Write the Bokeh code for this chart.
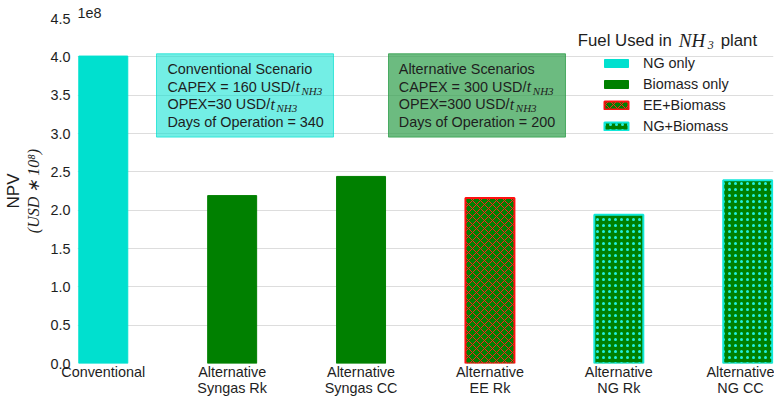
from bokeh.plotting import figure
from bokeh.models import (Range1d, FixedTicker, LinearAxis, CustomJSTickFormatter,
                          ColumnDataSource, Legend, LegendItem, BoxAnnotation, Label)
from bokeh.embed import file_html
from bokeh.resources import INLINE

# ---------------- data ----------------
scenarios = ["Conventional", "Alternative\nSyngas Rk", "Alternative\nSyngas CC",
             "Alternative\nEE Rk", "Alternative\nNG Rk", "Alternative\nNG CC"]
npv = [4.01e8, 2.19e8, 2.44e8, 2.16e8, 1.94e8, 2.39e8]
fuel = ["NG only", "Biomass only", "Biomass only", "EE+Biomass", "NG+Biomass", "NG+Biomass"]
fuel_types = ["NG only", "Biomass only", "EE+Biomass", "NG+Biomass"]
yticks = [0.0, 0.5e8, 1.0e8, 1.5e8, 2.0e8, 2.5e8, 3.0e8, 3.5e8, 4.0e8, 4.5e8]

conv_lines = ["Conventional Scenario", "CAPEX = 160 USD/", "OPEX=30 USD/", "Days of Operation = 340"]
alt_lines = ["Alternative Scenarios", "CAPEX = 300 USD/", "OPEX=300 USD/", "Days of Operation = 200"]

# ---------------- styles ----------------
CYAN = "#00E0CF"
GREEN = "#008000"
styles = {
    "NG only": dict(fill_color=CYAN, line_color=CYAN, line_width=1, hatch_pattern=None),
    "Biomass only": dict(fill_color=GREEN, line_color=GREEN, line_width=1, hatch_pattern=None),
    "EE+Biomass": dict(fill_color=GREEN, line_color="#FF1010", line_width=2,
                       hatch_pattern="diagonal_cross", hatch_color="#FF2020",
                       hatch_scale=8, hatch_weight=1.0),
    "NG+Biomass": dict(fill_color=GREEN, line_color="#10E8DA", line_width=2,
                       hatch_pattern="dot", hatch_color="#20F0E0",
                       hatch_scale=6, hatch_weight=1.5),
}

FONT = "Liberation Sans"
SERIF = "Liberation Serif"
TXT = "#1e1e1e"

p = figure(width=774, height=399, output_backend="svg", toolbar_location=None,
           x_range=Range1d(-0.2, 5.2), y_range=Range1d(0, 4.5e8),
           min_border_left=77, min_border_right=1, min_border_top=18, min_border_bottom=30,
           title="1e8")
p.title.align = "left"
p.title.text_font = FONT
p.title.text_font_style = "normal"
p.title.text_font_size = "14.4px"
p.title.text_color = TXT
p.title.standoff = 1
p.title.offset = 0
p.outline_line_color = None
p.background_fill_color = "white"
p.xgrid.visible = False
p.ygrid.ticker = FixedTicker(ticks=yticks)
p.ygrid.grid_line_color = "#dddddd"
p.ygrid.grid_line_width = 1

# bars
renderers = {}
for ft in fuel_types:
    idx = [i for i, f in enumerate(fuel) if f == ft]
    src = ColumnDataSource(dict(x=idx, npv=[npv[i] for i in idx]))
    renderers[ft] = p.vbar(x="x", top="npv", bottom=0, width=0.38, source=src, **styles[ft])

# x axis
xa = p.xaxis[0]
xa.ticker = FixedTicker(ticks=list(range(len(scenarios))))
xa.major_label_overrides = {i: s for i, s in enumerate(scenarios)}
xa.axis_line_color = None
xa.major_tick_line_color = None
xa.minor_tick_line_color = None
xa.major_tick_out = 0
xa.major_tick_in = 0
xa.major_label_standoff = 0
xa.axis_label_standoff = 0
xa.major_label_text_font = FONT
xa.major_label_text_font_size = "14.4px"
xa.major_label_text_line_height = 1.05
xa.major_label_text_color = TXT

# y axis
ya = p.yaxis[0]
ya.ticker = FixedTicker(ticks=yticks)
ya.formatter = CustomJSTickFormatter(code="return (tick/1e8).toFixed(1)")
ya.axis_line_color = None
ya.major_tick_line_color = None
ya.minor_tick_line_color = None
ya.major_tick_out = 0
ya.major_tick_in = 0
ya.major_label_standoff = 7
ya.major_label_text_font = FONT
ya.major_label_text_font_size = "14.4px"
ya.major_label_text_color = TXT
ya.axis_label = "(USD \u2217 10\u2078)"
ya.axis_label_text_font = SERIF
ya.axis_label_text_font_style = "italic"
ya.axis_label_text_font_size = "16px"
ya.axis_label_text_color = TXT
ya.axis_label_standoff = 5

ya2 = LinearAxis(ticker=FixedTicker(ticks=[]), axis_label="NPV")
ya2.axis_line_color = None
ya2.major_tick_line_color = None
ya2.minor_tick_line_color = None
ya2.major_tick_out = 0
ya2.major_tick_in = 0
ya2.major_label_text_font_size = "0px"
ya2.major_label_standoff = 0
ya2.axis_label_text_font = FONT
ya2.axis_label_text_font_style = "normal"
ya2.axis_label_text_font_size = "17px"
ya2.axis_label_text_color = TXT
ya2.axis_label_standoff = 0
p.add_layout(ya2, "left")

# info boxes
p.add_layout(BoxAnnotation(left=0.413, right=1.786, bottom=2.953e8, top=4.04e8,
                           fill_color=CYAN, fill_alpha=0.55, line_color=CYAN,
                           line_alpha=0.7, line_width=1))
p.add_layout(BoxAnnotation(left=2.213, right=3.586, bottom=2.953e8, top=4.04e8,
                           fill_color="#2e9e4a", fill_alpha=0.7, line_color="#2e9e4a",
                           line_alpha=0.8, line_width=1))

line_y = [3.837e8, 3.608e8, 3.384e8, 3.151e8]
sub_off = {"CAPEX = 160 USD/": 128, "OPEX=30 USD/": 103,
           "CAPEX = 300 USD/": 128, "OPEX=300 USD/": 111}
for x0, lines in ((0.498, conv_lines), (2.293, alt_lines)):
    for yy, t in zip(line_y, lines):
        p.add_layout(Label(x=x0, y=yy, text=t, text_baseline="middle",
                           text_font=FONT, text_font_size="14.4px", text_color=TXT))
        if t in sub_off:
            off = sub_off[t]
            p.add_layout(Label(x=x0, y=yy, x_offset=off, text="t", text_baseline="middle",
                               text_font=SERIF, text_font_style="italic",
                               text_font_size="16px", text_color=TXT))
            p.add_layout(Label(x=x0, y=yy, x_offset=off + 6, y_offset=-4, text="NH3",
                               text_baseline="middle", text_font=SERIF,
                               text_font_style="italic", text_font_size="11px",
                               text_color=TXT))

# legend title (mixed fonts)
tx, ty = 3.681, 4.212e8
p.add_layout(Label(x=tx, y=ty, text="Fuel Used in", text_baseline="middle",
                   text_font=FONT, text_font_size="16.8px", text_color=TXT))
p.add_layout(Label(x=tx, y=ty, x_offset=101, text="NH", text_baseline="middle",
                   text_font=SERIF, text_font_style="italic", text_font_size="19px",
                   text_color=TXT))
p.add_layout(Label(x=tx, y=ty, x_offset=130, y_offset=-4, text="3", text_baseline="middle",
                   text_font=SERIF, text_font_style="italic", text_font_size="12px",
                   text_color=TXT))
p.add_layout(Label(x=tx, y=ty, x_offset=143, text="plant", text_baseline="middle",
                   text_font=FONT, text_font_size="16.8px", text_color=TXT))

legend = Legend(items=[LegendItem(label=ft, renderers=[renderers[ft]]) for ft in fuel_types],
                location=(524, 227))
legend.background_fill_alpha = 0
legend.border_line_alpha = 0
legend.padding = 0
legend.margin = 0
legend.spacing = 1
legend.glyph_width = 30
legend.glyph_height = 10
legend.label_height = 20
legend.label_standoff = 12
legend.label_text_font = FONT
legend.label_text_font_size = "14.4px"
legend.label_text_color = TXT
p.add_layout(legend)

open("out.html", "w").write(file_html(p, INLINE))
